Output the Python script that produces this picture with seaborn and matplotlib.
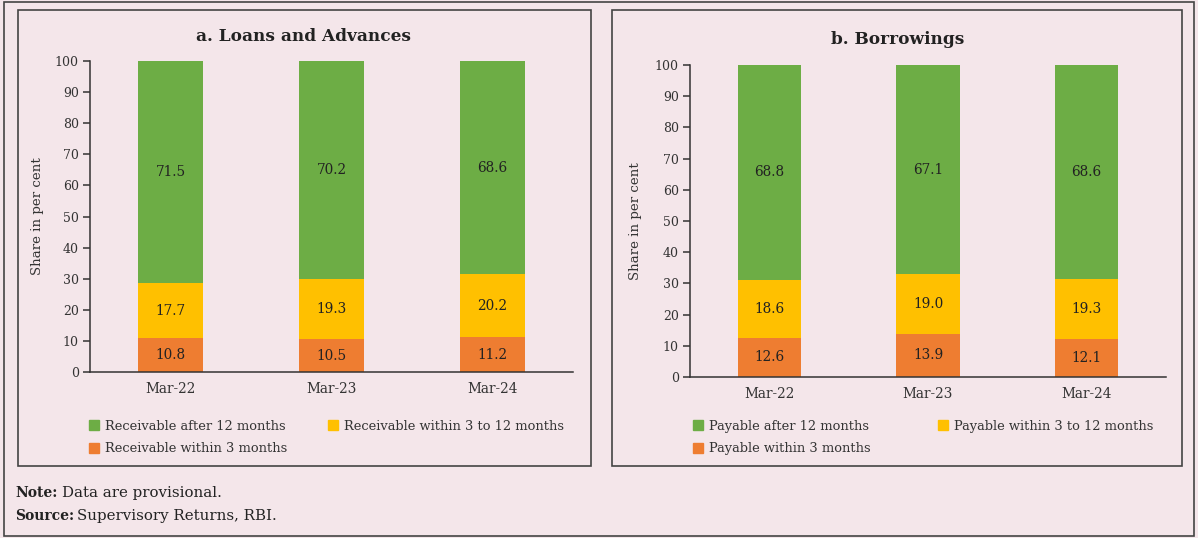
import matplotlib
matplotlib.use("Agg")
import matplotlib.pyplot as plt
from matplotlib.patches import Patch, Rectangle
import numpy as np
import pandas as pd
import seaborn as sns

# ---- data -------------------------------------------------------------
periods = ["Mar-22", "Mar-23", "Mar-24"]

loans_within_3m = [10.8, 10.5, 11.2]
loans_3_to_12m = [17.7, 19.3, 20.2]
loans_after_12m = [71.5, 70.2, 68.6]

borrow_within_3m = [12.6, 13.9, 12.1]
borrow_3_to_12m = [18.6, 19.0, 19.3]
borrow_after_12m = [68.8, 67.1, 68.6]

loans_labels = ["Receivable after 12 months", "Receivable within 3 to 12 months",
                "Receivable within 3 months"]
borrow_labels = ["Payable after 12 months", "Payable within 3 to 12 months",
                 "Payable within 3 months"]

panel_titles = ["a. Loans and Advances", "b. Borrowings"]
y_ticks = list(range(0, 101, 10))

# ---- style ------------------------------------------------------------
BG = "#F4E6EA"
GREEN = "#6DAD45"
YELLOW = "#FFC000"
ORANGE = "#EE7D31"
DARK = "#333333"

sns.set_theme(style="white")
plt.rcParams["font.family"] = ["DejaVu Serif"]
plt.rcParams["text.color"] = DARK
plt.rcParams["axes.labelcolor"] = DARK
plt.rcParams["xtick.color"] = DARK
plt.rcParams["ytick.color"] = DARK

W, H = 1198, 538
fig = plt.figure(figsize=(W / 100, H / 100), dpi=100, facecolor=BG)

# outer frame and panel frames
fig.patches.append(Rectangle((0.003, 0.004), 0.994, 0.992, transform=fig.transFigure,
                             fill=False, edgecolor="#444444", lw=1.2))
for x0, w in [(18 / W, 573 / W), (612 / W, 570 / W)]:
    fig.patches.append(Rectangle((x0, (H - 466) / H), w, 456 / H,
                                 transform=fig.transFigure, fill=False,
                                 edgecolor="#444444", lw=1.2))

ax_specs = [
    [90 / W, (H - 372) / H, 483 / W, 311 / H],
    [690 / W, (H - 377) / H, 476 / W, 312 / H],
]
panels = [
    (loans_within_3m, loans_3_to_12m, loans_after_12m, loans_labels),
    (borrow_within_3m, borrow_3_to_12m, borrow_after_12m, borrow_labels),
]
title_xy = [(304, 37), (898, 40)]
ylabel_x = [38, 636]
legend_x = [89, 693]
legend_colspace = [3.1, 5.1]

for i, (spec, (s1, s2, s3, labels)) in enumerate(zip(ax_specs, panels)):
    ax = fig.add_axes(spec)
    ax.set_facecolor(BG)
    df = pd.DataFrame({"period": periods, "s1": s1, "s2": s2, "s3": s3})
    df["c1"] = df["s1"]
    df["c2"] = df["s1"] + df["s2"]
    df["c3"] = df["s1"] + df["s2"] + df["s3"]

    # stacked bars: draw cumulative totals from the top layer down
    for col, color in [("c3", GREEN), ("c2", YELLOW), ("c1", ORANGE)]:
        sns.barplot(data=df, x="period", y=col, color=color, width=0.4,
                    saturation=1, ax=ax, errorbar=None, linewidth=0)

    # segment value labels
    for j in range(len(periods)):
        for lo, val in [(0, s1[j]), (s1[j], s2[j]), (s1[j] + s2[j], s3[j])]:
            ax.text(j, lo + val / 2, f"{val:.1f}", ha="center", va="center",
                    fontsize=9.8, color="#222222")

    ax.set_xlim(-0.5, len(periods) - 0.5)
    ax.set_ylim(0, 100)
    ax.set_yticks(y_ticks)
    ax.set_xticks(range(len(periods)))
    ax.set_xticklabels(periods)
    ax.set_xticks(np.arange(-0.5, len(periods), 1.0), minor=True)
    ax.tick_params(axis="x", which="major", length=0, labelsize=9.8, pad=7)
    ax.tick_params(axis="x", which="minor", length=6, width=1.1, direction="out",
                   color=DARK)
    ax.tick_params(axis="y", length=5, width=1.1, direction="out", labelsize=9,
                   pad=3, left=True)
    for side in ["top", "right"]:
        ax.spines[side].set_visible(False)
    for side in ["left", "bottom"]:
        ax.spines[side].set_color(DARK)
        ax.spines[side].set_linewidth(1.1)
    ax.set_xlabel("")
    ax.set_ylabel("")
    fig.text(ylabel_x[i] / W, spec[1] + spec[3] / 2, "Share in per cent",
             rotation=90, ha="center", va="center", fontsize=9.6)

    # panel title
    tx, ty = title_xy[i]
    fig.text(tx / W, 1 - ty / H, panel_titles[i], ha="center", va="center",
             fontsize=12.2, fontweight="bold", color="#222222")

    handles = [Patch(color=GREEN, label=labels[0]),
               Patch(color=ORANGE, label=labels[2]),
               Patch(color=YELLOW, label=labels[1])]
    fig.legend(handles=handles, loc="upper left",
               bbox_to_anchor=(legend_x[i] / W, 1 - 420 / H), ncol=2,
               frameon=False, fontsize=9.4, handlelength=0.8, handleheight=0.8,
               handletextpad=0.45, columnspacing=legend_colspace[i],
               labelspacing=0.7, borderaxespad=0, borderpad=0)

# notes
fig.text(15 / W, 1 - 493 / H, "Note:", fontsize=10, fontweight="bold",
         ha="left", va="center", color="#222222")
fig.text(62 / W, 1 - 493 / H, "Data are provisional.", fontsize=10.8,
         ha="left", va="center", color="#222222")
fig.text(15 / W, 1 - 516 / H, "Source:", fontsize=10, fontweight="bold",
         ha="left", va="center", color="#222222")
fig.text(77 / W, 1 - 516 / H, "Supervisory Returns, RBI.", fontsize=10.8,
         ha="left", va="center", color="#222222")

fig.savefig("out.png", dpi=100, facecolor=BG)
